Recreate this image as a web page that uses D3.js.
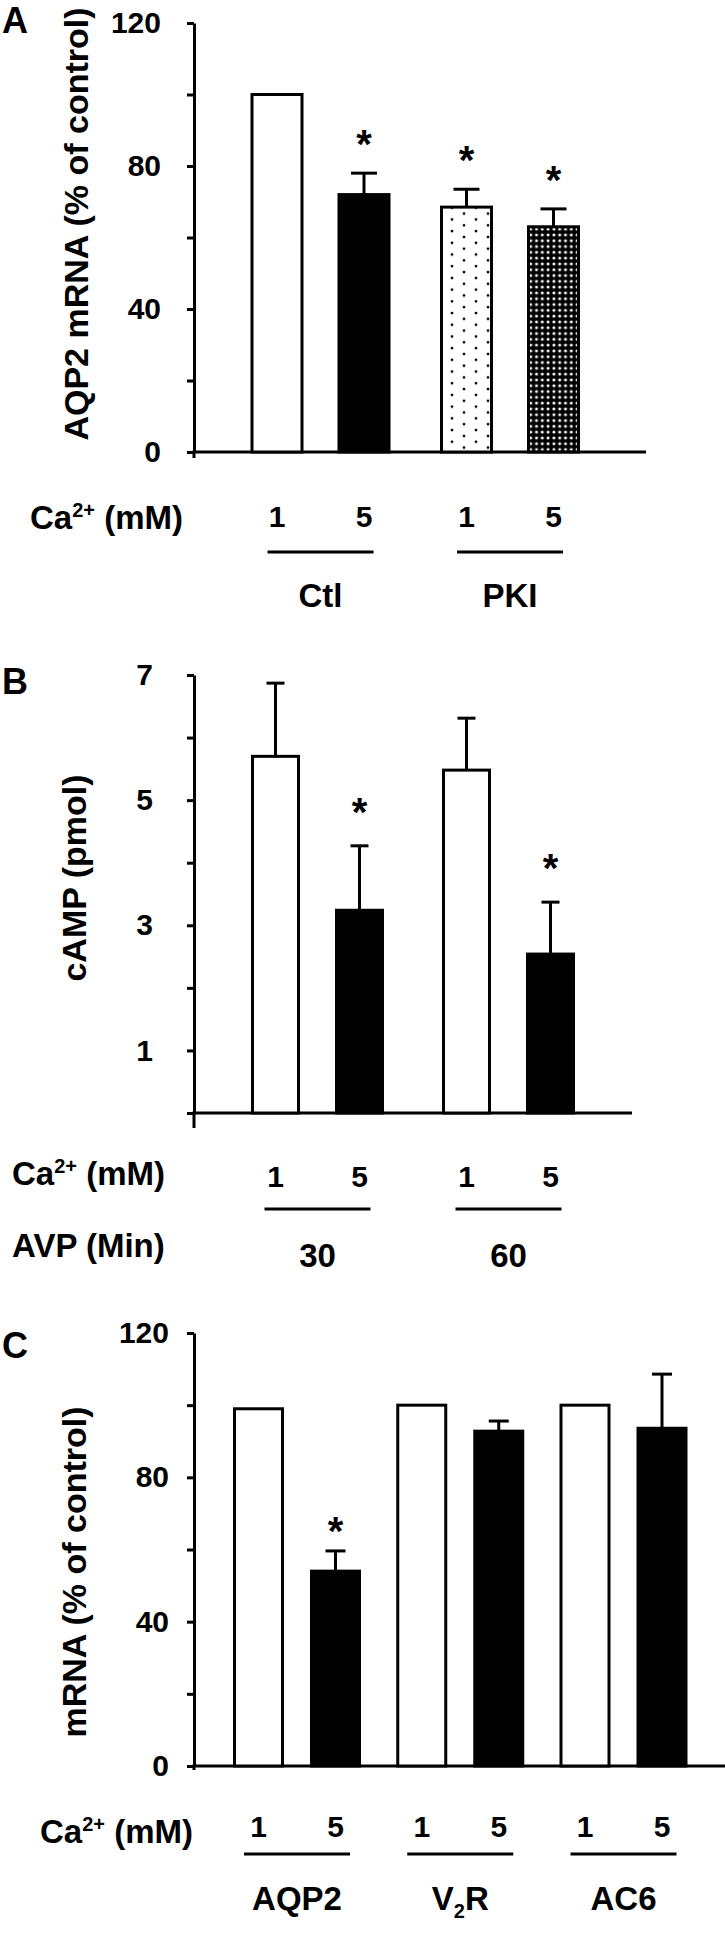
<!DOCTYPE html>
<html>
<head>
<meta charset="utf-8">
<script src="https://cdn.jsdelivr.net/npm/d3@7"></script>
<style>
  body { margin: 0; background: #fff; }
  text { font-family: "Liberation Sans", Arial, sans-serif; font-weight: bold; fill: #000; }
</style>
</head>
<body>
<svg width="725" height="1949"></svg>
<script>
// ---- data ----
var caLevels = ["1", "5"];

var groupsA = ["Ctl", "PKI"];
var valuesA = [100, 72, 68.5, 63];
var errorsA = [0, 6, 5, 5];
var sigA = [false, true, true, true];
var ticksA = [0, 20, 40, 60, 80, 100, 120];
var labelsA = [0, 40, 80, 120];

var groupsB = ["30", "60"];
var valuesB = [5.7, 3.24, 5.48, 2.54];
var errorsB = [1.17, 1.03, 0.83, 0.83];
var sigB = [false, true, false, true];
var ticksB = [0, 1, 2, 3, 4, 5, 6, 7];
var labelsB = [1, 3, 5, 7];

var groupsC = ["AQP2", "V2R", "AC6"];
var valuesC = [99, 54, 100, 92.8, 100, 93.6];
var errorsC = [0, 5.6, 0, 2.8, 0, 15];
var sigC = [false, true, false, false, false, false];
var ticksC = [0, 20, 40, 60, 80, 100, 120];
var labelsC = [0, 40, 80, 120];

var svg = d3.select("svg");
var axisX = 194;

// fill patterns for the PKI bars
var defs = svg.append("defs");
var dots = defs.append("pattern").attr("id", "dots")
  .attr("patternUnits", "userSpaceOnUse").attr("width", 24).attr("height", 11.7)
  .attr("x", 458);
dots.append("rect").attr("width", 24).attr("height", 11.7).attr("fill", "#fff");
dots.append("circle").attr("cx", 6).attr("cy", 3).attr("r", 1.4).attr("fill", "#000");
dots.append("circle").attr("cx", 18).attr("cy", 8.85).attr("r", 1.4).attr("fill", "#000");

var dense = defs.append("pattern").attr("id", "dense")
  .attr("patternUnits", "userSpaceOnUse").attr("width", 5.8).attr("height", 5.8);
dense.append("rect").attr("width", 5.8).attr("height", 5.8).attr("fill", "#000");
dense.append("circle").attr("cx", 2.9).attr("cy", 2.9).attr("r", 1.5).attr("fill", "#fff");

function fillFor(kind) {
  if (kind == "dots") return "url(#dots)";
  if (kind == "dense") return "url(#dense)";
  return kind == "open" ? "#fff" : "#000";
}

function caLabel(x, y) {
  var t = svg.append("text").attr("x", x).attr("y", y).style("font-size", "33px");
  t.append("tspan").text("Ca");
  t.append("tspan").attr("dy", -12).style("font-size", "20px").text("2+");
  t.append("tspan").attr("dy", 12).text(" (mM)");
}

function panel(o) {
  var g = svg.append("g");
  var y = d3.scaleLinear().domain(o.domain).range([o.y0, o.y1]);
  var gx = d3.scalePoint().domain(o.groups).range(o.groupRange);
  var ix = d3.scalePoint().domain(caLevels).range([-o.half, o.half]);
  var xc = function(i) {
    return gx(o.groups[Math.floor(i / 2)]) + ix(caLevels[i % 2]);
  };

  // y axis
  var ax = g.append("g")
    .attr("transform", "translate(" + axisX + ",0)")
    .call(d3.axisLeft(y).tickValues(o.ticks)
      .tickFormat(function(d) { return o.labels.indexOf(d) >= 0 ? d : ""; })
      .tickSize(7).tickSizeOuter(0).tickPadding(o.pad));
  ax.selectAll("path, line").attr("stroke", "#000").attr("stroke-width", 3);
  ax.selectAll("text").style("font-size", "30px")
    .style("font-family", "Liberation Sans, Arial, sans-serif").style("font-weight", "bold");
  g.append("line").attr("x1", axisX).attr("x2", axisX)
    .attr("y1", o.y0).attr("y2", o.y0 + o.tail)
    .attr("stroke", "#000").attr("stroke-width", 3);

  // x axis line
  g.append("line").attr("x1", axisX - 1.5).attr("x2", o.xEnd)
    .attr("y1", o.y0).attr("y2", o.y0)
    .attr("stroke", "#000").attr("stroke-width", 3);

  // bars
  g.selectAll("rect.bar").data(o.values).enter().append("rect")
    .attr("class", "bar")
    .attr("x", function(d, i) { return xc(i) - o.bw / 2; })
    .attr("y", function(d) { return y(d); })
    .attr("width", o.bw)
    .attr("height", function(d) { return o.y0 - y(d); })
    .attr("fill", function(d, i) { return fillFor(o.kinds[i]); })
    .attr("stroke", "#000").attr("stroke-width", 3);

  // error bars (upper only) and asterisks
  o.values.forEach(function(v, i) {
    var e = o.errors[i];
    var top = y(v + e);
    if (e) {
      g.append("line").attr("x1", xc(i)).attr("x2", xc(i))
        .attr("y1", y(v)).attr("y2", top)
        .attr("stroke", "#000").attr("stroke-width", 3);
      g.append("line").attr("x1", xc(i) - o.cap / 2).attr("x2", xc(i) + o.cap / 2)
        .attr("y1", top).attr("y2", top)
        .attr("stroke", "#000").attr("stroke-width", 3);
    }
    if (o.sig[i]) {
      g.append("text").attr("x", xc(i)).attr("y", top - o.star + 23)
        .attr("text-anchor", "middle").style("font-size", "40px").text("*");
    }
  });

  // Ca2+ levels under bars
  o.values.forEach(function(v, i) {
    g.append("text").attr("x", xc(i)).attr("y", o.levelY)
      .attr("text-anchor", "middle").style("font-size", "30px")
      .text(caLevels[i % 2]);
  });
  // group lines + names
  o.groups.forEach(function(name) {
    g.append("line").attr("x1", gx(name) - 53).attr("x2", gx(name) + 53)
      .attr("y1", o.lineY).attr("y2", o.lineY)
      .attr("stroke", "#000").attr("stroke-width", 3);
    var t = g.append("text").attr("x", gx(name)).attr("y", o.nameY)
      .attr("text-anchor", "middle").style("font-size", "33px");
    if (name == "V2R") {
      t.append("tspan").text("V");
      t.append("tspan").attr("dy", 8).style("font-size", "20px").text("2");
      t.append("tspan").attr("dy", -8).text("R");
    } else {
      t.text(name);
    }
  });

  // y title
  g.append("text")
    .attr("transform", "translate(" + o.titleX + "," + o.titleY + ") rotate(-90)")
    .attr("text-anchor", "middle").style("font-size", "34px").text(o.title);

  // panel letter
  g.append("text").attr("x", 2).attr("y", o.letterY)
    .style("font-size", "36px").text(o.letter);

  caLabel(o.caX, o.caY);
}

panel({
  letter: "A", letterY: 33,
  title: "AQP2 mRNA (% of control)", titleX: 88, titleY: 224,
  domain: [0, 120], y0: 452, y1: 23, ticks: ticksA, labels: labelsA, pad: 26, tail: 6,
  groups: groupsA, groupRange: [320.5, 510], half: 43.5, bw: 50, cap: 26, star: 38,
  values: valuesA, errors: errorsA, sig: sigA,
  kinds: ["open", "solid", "dots", "dense"],
  xEnd: 646, levelY: 527, lineY: 552, nameY: 607, caX: 30, caY: 529
});

panel({
  letter: "B", letterY: 694,
  title: "cAMP (pmol)", titleX: 86, titleY: 878,
  domain: [0, 7], y0: 1113, y1: 675, ticks: ticksB, labels: labelsB, pad: 34, tail: 15,
  groups: groupsB, groupRange: [317.5, 508.5], half: 42, bw: 46, cap: 18, star: 43,
  values: valuesB, errors: errorsB, sig: sigB,
  kinds: ["open", "solid", "open", "solid"],
  xEnd: 632, levelY: 1187, lineY: 1209, nameY: 1267, caX: 12, caY: 1185
});
svg.append("text").attr("x", 12).attr("y", 1257).style("font-size", "33px").text("AVP (Min)");

panel({
  letter: "C", letterY: 1358,
  title: "mRNA (% of control)", titleX: 86, titleY: 1572,
  domain: [0, 120], y0: 1766, y1: 1333, ticks: ticksC, labels: labelsC, pad: 18, tail: 4,
  groups: groupsC, groupRange: [297, 623.5], half: 38.5, bw: 48, cap: 20, star: 29,
  values: valuesC, errors: errorsC, sig: sigC,
  kinds: ["open", "solid", "open", "solid", "open", "solid"],
  xEnd: 725, levelY: 1837, lineY: 1854, nameY: 1910, caX: 40, caY: 1843
});
</script>
</body>
</html>
